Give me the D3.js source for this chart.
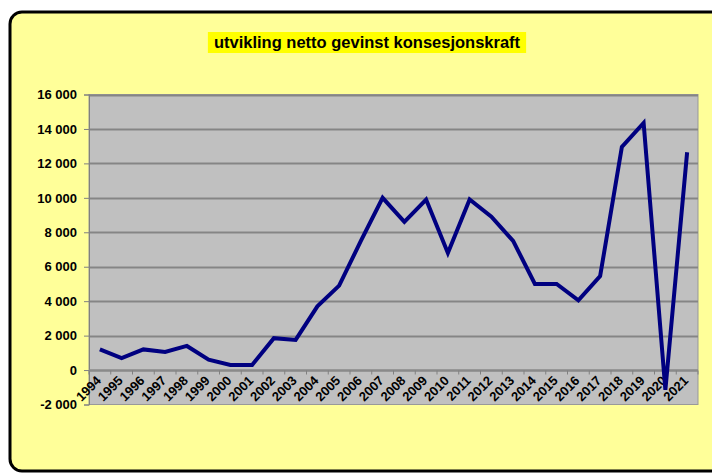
<!DOCTYPE html>
<html>
<head>
<meta charset="utf-8">
<script src="https://cdn.jsdelivr.net/npm/d3@7"></script>
<style>
body { margin:0; background:#fff; }
text { font-family: "Liberation Sans", Arial, sans-serif; font-weight: bold; }
</style>
</head>
<body>
<script>
var w = 712, h = 474;

var years = ["1994","1995","1996","1997","1998","1999","2000","2001","2002","2003","2004","2005","2006","2007",
	"2008","2009","2010","2011","2012","2013","2014","2015","2016","2017","2018","2019","2020","2021"];
var values = [1200, 700, 1200, 1050, 1400, 600, 300, 300, 1850, 1750, 3700, 4900, 7500, 10000,
	8600, 9900, 6800, 9900, 8900, 7500, 5000, 5000, 4050, 5450, 12950, 14350, -1150, 12650];
var yTicks = [-2000, 0, 2000, 4000, 6000, 8000, 10000, 12000, 14000, 16000];
var title = "utvikling netto gevinst konsesjonskraft";

var pLeft = 89, pRight = 698, pTop = 94.5, pBottom = 404.5;

var svg = d3.select("body").append("svg")
	.attr("width", w)
	.attr("height", h)

// chart frame
svg.append("rect")
	.attr("x", 10).attr("y", 12)
	.attr("width", 720).attr("height", 459)
	.attr("rx", 12)
	.style("fill", "#ffff99")
	.style("stroke", "#000")
	.style("stroke-width", 3)

// title
var t = svg.append("text")
	.attr("x", 367).attr("y", 48)
	.attr("text-anchor", "middle")
	.style("font-size", "16.5px")
	.text(title)
var tl = t.node().getComputedTextLength();
svg.insert("rect", "text")
	.attr("x", 367 - tl/2 - 6).attr("y", 32)
	.attr("width", tl + 12).attr("height", 21)
	.style("fill", "#ffff00")

var x = d3.scaleBand().domain(years).range([pLeft, pRight]);
var y = d3.scaleLinear().domain([-2000, 16000]).range([pBottom, pTop]);

// plot area
svg.append("rect")
	.attr("x", pLeft).attr("y", pTop)
	.attr("width", pRight - pLeft).attr("height", pBottom - pTop)
	.style("fill", "#c0c0c0")
	.style("stroke", "#999")
	.style("stroke-width", 1)

svg.append("g").selectAll("line")
	.data(yTicks.filter(function(d){ return d > -2000; }))
	.enter().append("line")
	.attr("x1", pLeft).attr("x2", pRight)
	.attr("y1", function(d){ return Math.round(y(d)) + 0.5; })
	.attr("y2", function(d){ return Math.round(y(d)) + 0.5; })
	.style("stroke", "#858585")
	.style("stroke-width", 2)

// y axis (thousands with space, plain hyphen for minus)
var fmt = function(d){
	var s = String(Math.abs(d)).replace(/\B(?=(\d{3})+(?!\d))/g, " ");
	return (d < 0 ? "-" : "") + s;
};
var yAxis = svg.append("g")
	.attr("transform", "translate(" + pLeft + ",0)")
	.call(d3.axisLeft(y).tickValues(yTicks).tickSize(5).tickPadding(7).tickFormat(fmt))
yAxis.select(".domain").style("stroke", "#808080")
yAxis.selectAll(".tick line").style("stroke", "#808080")
yAxis.selectAll("text").style("font-size", "13px").style("fill", "#000")
	.style("font-family", "'Liberation Sans', Arial, sans-serif")

// x axis at zero
var x0 = Math.round(y(0)) + 0.5;
svg.append("line")
	.attr("x1", pLeft).attr("x2", pRight)
	.attr("y1", x0).attr("y2", x0)
	.style("stroke", "#8a8a8a").style("stroke-width", 2)

svg.append("g").selectAll("line")
	.data(years.concat(["end"]))
	.enter().append("line")
	.attr("x1", function(d, i){ return pLeft + i * x.step(); })
	.attr("x2", function(d, i){ return pLeft + i * x.step(); })
	.attr("y1", x0).attr("y2", x0 + 4)
	.style("stroke", "#808080")

svg.append("g").selectAll("text")
	.data(years)
	.enter().append("text")
	.attr("transform", function(d){ return "translate(" + (x(d) + x.bandwidth()/2 + 2) + "," + (x0 + 11) + ") rotate(-45)"; })
	.attr("text-anchor", "end")
	.style("font-size", "13px")
	.text(function(d){ return d; })

// line
var line = d3.line()
	.x(function(d, i){ return x(years[i]) + x.bandwidth()/2; })
	.y(function(d){ return y(d); });

svg.append("path")
	.datum(values)
	.attr("d", line)
	.style("fill", "none")
	.style("stroke", "#000080")
	.style("stroke-width", 4)
	.style("stroke-linejoin", "miter")
</script>
</body>
</html>
